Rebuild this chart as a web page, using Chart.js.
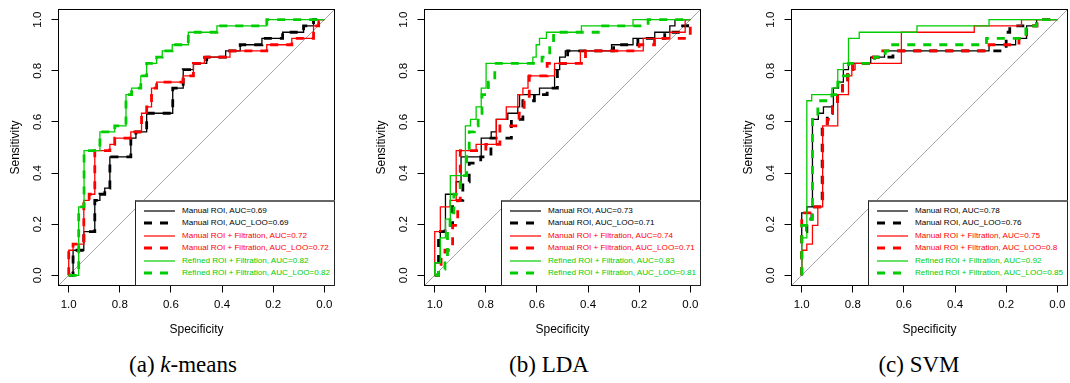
<!DOCTYPE html>
<html>
<head>
<meta charset="utf-8">
<script src="https://cdn.jsdelivr.net/npm/chart.js@4.4.0/dist/chart.umd.min.js"></script>
<style>
  body { margin: 0; background: #fff; }
  #page { position: relative; width: 1070px; height: 383px; overflow: hidden; }
  .panel { position: absolute; top: 0; width: 336px; height: 340px; }
  .legend {
    position: absolute; left: 135px; top: 200px; width: 200px; height: 86px;
    box-sizing: border-box; border: 1px solid #222; border-top: 2px solid #666;
    background: #fff; font-family: 'Liberation Sans', Arial, sans-serif; font-size: 8.1px;
  }
  .legend .row { position: absolute; left: 0; width: 100%; height: 12px; line-height: 12px; white-space: nowrap; }
  .legend svg { position: absolute; left: 7px; top: 0; }
  .legend span { position: absolute; left: 46px; top: 0; }
  .caption {
    position: absolute; top: 352px; transform: translateX(-50%); white-space: nowrap;
    font-family: 'Liberation Serif', 'Times New Roman', serif; font-size: 23px;
  }
</style>
</head>
<body>
<div id="page"></div>
<script>
const FONT = "'Liberation Sans', Arial, sans-serif";

const tickValues = [0, 0.2, 0.4, 0.6, 0.8, 1.0];
const seriesNames = ['Manual ROI', 'Manual ROI + Filtration', 'Refined ROI + Filtration'];
const seriesColors = ['#000000', '#FF0000', '#00CD00'];
const diagSpec = [1.04, -0.04];
const diagSens = [-0.04, 1.04];

// ROC steps as [specificity, sensitivity]: sensitivity rises to the value at that specificity
// (a) k-means
const kmManual = [[1,0],[0.983,0.098],[0.941,0.171],[0.898,0.293],[0.878,0.317],[0.859,0.341],[0.839,0.463],[0.757,0.537],[0.737,0.561],[0.695,0.634],[0.593,0.732],[0.552,0.805],[0.512,0.829],[0.460,0.854],[0.386,0.878],[0.329,0.902],[0.244,0.927],[0.163,0.951],[0.081,0.976],[0.042,1],[0,1]];
const kmManualLoo = kmManual;
const kmFilt = [[1,0],[1,0.098],[0.983,0.122],[0.941,0.293],[0.920,0.317],[0.898,0.488],[0.839,0.512],[0.820,0.537],[0.757,0.561],[0.715,0.634],[0.695,0.659],[0.676,0.732],[0.656,0.756],[0.552,0.780],[0.512,0.829],[0.469,0.854],[0.369,0.878],[0.225,0.902],[0.127,0.927],[0.042,0.976],[0.022,1],[0,1]];
const kmFiltLoo = kmFilt;
const kmRefined = [[1,0],[0.961,0.268],[0.940,0.488],[0.878,0.561],[0.820,0.585],[0.776,0.707],[0.754,0.732],[0.718,0.780],[0.695,0.829],[0.656,0.854],[0.634,0.878],[0.595,0.902],[0.532,0.951],[0.42,0.976],[0.225,1],[0,1]];
const kmRefinedLoo = kmRefined;
const kmAuc = [0.69, 0.72, 0.82];
const kmAucLoo = [0.69, 0.72, 0.82];

// (b) LDA
const ldaManual = [[1,0],[1,0.049],[0.978,0.171],[0.958,0.317],[0.916,0.366],[0.897,0.463],[0.818,0.537],[0.779,0.561],[0.759,0.610],[0.714,0.634],[0.675,0.659],[0.668,0.707],[0.590,0.732],[0.531,0.805],[0.511,0.854],[0.489,0.878],[0.308,0.902],[0.224,0.927],[0.139,0.951],[0.080,0.976],[0.060,1],[0,1]];
const ldaManualLoo = [[1,0],[0.985,0.171],[0.96,0.195],[0.93,0.293],[0.89,0.366],[0.865,0.439],[0.82,0.463],[0.78,0.537],[0.70,0.610],[0.655,0.683],[0.61,0.707],[0.56,0.732],[0.52,0.829],[0.48,0.878],[0.30,0.902],[0.205,0.927],[0.10,0.951],[0.03,0.976],[0.01,1],[0,1]];
const ldaFilt = [[1,0],[1,0.171],[0.978,0.268],[0.940,0.293],[0.916,0.488],[0.838,0.512],[0.759,0.610],[0.720,0.659],[0.675,0.707],[0.655,0.732],[0.635,0.780],[0.531,0.829],[0.43,0.878],[0.184,0.927],[0.08,0.951],[0.02,1],[0,1]];
const ldaFiltLoo = [[1,0],[0.985,0.024],[0.975,0.073],[0.96,0.098],[0.93,0.195],[0.91,0.293],[0.90,0.488],[0.80,0.512],[0.745,0.585],[0.67,0.634],[0.65,0.683],[0.63,0.780],[0.56,0.829],[0.41,0.878],[0.20,0.902],[0.14,0.927],[0,1]];
const ldaRefined = [[1,0],[1,0.049],[0.978,0.146],[0.958,0.220],[0.939,0.390],[0.880,0.585],[0.860,0.610],[0.838,0.659],[0.818,0.732],[0.799,0.829],[0.616,0.854],[0.603,0.902],[0.590,0.927],[0.563,0.951],[0.426,0.976],[0.224,1],[0,1]];
const ldaRefinedLoo = [[1,0],[0.985,0.024],[0.96,0.073],[0.95,0.195],[0.94,0.244],[0.925,0.317],[0.90,0.390],[0.875,0.488],[0.865,0.561],[0.845,0.585],[0.83,0.634],[0.815,0.707],[0.79,0.756],[0.765,0.829],[0.58,0.854],[0.55,0.902],[0.535,0.951],[0.36,0.976],[0.165,1],[0,1]];
const ldaAuc = [0.73, 0.74, 0.83];
const ldaAucLoo = [0.71, 0.71, 0.81];

// (c) SVM
const svmManual = [[1,0],[1,0.244],[0.98,0.268],[0.958,0.610],[0.935,0.634],[0.915,0.659],[0.876,0.732],[0.856,0.756],[0.837,0.805],[0.817,0.829],[0.73,0.854],[0.676,0.878],[0.267,0.902],[0.163,0.927],[0.120,0.976],[0.081,1],[0,1]];
const svmManualLoo = [[1,0],[1,0.171],[0.98,0.220],[0.96,0.268],[0.92,0.585],[0.90,0.634],[0.88,0.659],[0.86,0.707],[0.84,0.756],[0.82,0.805],[0.80,0.829],[0.72,0.854],[0.643,0.878],[0.20,0.951],[0.186,0.976],[0.08,1],[0,1]];
const svmFilt = [[1,0],[1,0.098],[0.98,0.122],[0.958,0.195],[0.937,0.268],[0.918,0.585],[0.859,0.707],[0.817,0.780],[0.804,0.805],[0.791,0.829],[0.61,0.951],[0.325,0.976],[0.14,1],[0,1]];
const svmFiltLoo = [[1,0],[1,0.244],[0.96,0.268],[0.918,0.585],[0.90,0.610],[0.88,0.659],[0.86,0.707],[0.84,0.756],[0.82,0.805],[0.80,0.829],[0.72,0.854],[0.70,0.878],[0.267,0.902],[0.15,0.927],[0.12,0.976],[0.08,1],[0,1]];
const svmRefined = [[1,0],[1,0.146],[0.98,0.683],[0.961,0.707],[0.882,0.732],[0.859,0.805],[0.837,0.829],[0.817,0.927],[0.775,0.951],[0.549,0.976],[0.267,1],[0,1]];
const svmRefinedLoo = [[1,0],[1,0.195],[0.97,0.220],[0.958,0.610],[0.937,0.683],[0.882,0.707],[0.859,0.756],[0.837,0.780],[0.817,0.829],[0.715,0.854],[0.673,0.878],[0.654,0.902],[0.277,0.927],[0.123,0.976],[0.081,1],[0,1]];
const svmAuc = [0.78, 0.75, 0.92];
const svmAucLoo = [0.76, 0.8, 0.85];

const panels = [
  { left: 0, caption: '(a) <i>k</i>-means', captionX: 183,
    curves: [[kmManual, kmManualLoo], [kmFilt, kmFiltLoo], [kmRefined, kmRefinedLoo]], auc: kmAuc, aucLoo: kmAucLoo },
  { left: 366, caption: '(b) LDA', captionX: 549,
    curves: [[ldaManual, ldaManualLoo], [ldaFilt, ldaFiltLoo], [ldaRefined, ldaRefinedLoo]], auc: ldaAuc, aucLoo: ldaAucLoo },
  { left: 733, caption: '(c) SVM', captionX: 919,
    curves: [[svmManual, svmManualLoo], [svmFilt, svmFiltLoo], [svmRefined, svmRefinedLoo]], auc: svmAuc, aucLoo: svmAucLoo }
];

const toXY = pts => pts.map(([x, y]) => ({ x, y }));

const framePlugin = {
  id: 'frame',
  afterDatasetsDraw(chart) {
    const { ctx, chartArea: a } = chart;
    ctx.save();
    ctx.strokeStyle = '#000';
    ctx.lineWidth = 1;
    ctx.strokeRect(a.left, a.top, a.right - a.left, a.bottom - a.top);
    ctx.restore();
  }
};

function buildDatasets(p) {
  const sets = [{
    data: diagSpec.map((x, i) => ({ x, y: diagSens[i] })),
    borderColor: '#a6a6a6', borderWidth: 1, order: 10
  }];
  // 'before': move across to the next specificity, then rise to its sensitivity
  seriesNames.forEach((name, i) => {
    sets.push({
      label: `${name}, AUC=${p.auc[i]}`,
      data: toXY(p.curves[i][0]),
      borderColor: seriesColors[i], borderWidth: 1.3, stepped: 'before',
      order: 6 - 2 * i
    });
    sets.push({
      label: `${name}, AUC_LOO=${p.aucLoo[i]}`,
      data: toXY(p.curves[i][1]),
      borderColor: seriesColors[i], borderWidth: 2.8, borderDash: [8, 8], stepped: 'before',
      order: 5 - 2 * i
    });
  });
  return sets;
}

function scaleBase() {
  return {
    type: 'linear', min: -0.04, max: 1.04,
    grid: { drawOnChartArea: false, drawTicks: true, tickLength: 7, color: '#000', lineWidth: 1 },
    border: { display: false },
    afterBuildTicks: s => { s.ticks = tickValues.map(v => ({ value: v })); }
  };
}

function makeLegend(panelEl, chart) {
  const box = document.createElement('div');
  box.className = 'legend';
  chart.data.datasets.filter(d => d.label).forEach((d, i) => {
    const row = document.createElement('div');
    row.className = 'row';
    row.style.top = (9 + 12.4 * i - 6) + 'px';
    const dashed = d.borderDash && d.borderDash.length;
    row.innerHTML =
      `<svg width="33" height="12"><line x1="1" y1="6" x2="32" y2="6" stroke="${d.borderColor}" ` +
      `stroke-width="${dashed ? 2.8 : 1.2}" ${dashed ? 'stroke-dasharray="8,8"' : ''}/></svg>` +
      `<span style="color:${d.borderColor}">${d.label}</span>`;
    box.appendChild(row);
  });
  panelEl.appendChild(box);
}

const page = document.getElementById('page');

panels.forEach(p => {
  const panelEl = document.createElement('div');
  panelEl.className = 'panel';
  panelEl.style.left = p.left + 'px';
  const canvas = document.createElement('canvas');
  canvas.width = 336;
  canvas.height = 340;
  panelEl.appendChild(canvas);
  page.appendChild(panelEl);

  const x = scaleBase();
  x.reverse = true;
  x.position = 'bottom';
  x.ticks = { font: { family: FONT, size: 11.5 }, color: '#000', padding: 5, maxRotation: 0,
              callback: v => v.toFixed(1) };
  x.title = { display: true, text: 'Specificity', color: '#000', font: { family: FONT, size: 12 },
              padding: { top: 0, bottom: 2.8 } };
  x.afterFit = s => { s.height = 54.5; s.paddingLeft = 0; s.paddingRight = 0; };

  const y = scaleBase();
  y.position = 'left';
  y.ticks = { font: { family: FONT, size: 11.5 }, color: '#000', padding: 6, minRotation: 90, maxRotation: 90,
              crossAlign: 'center', callback: v => v.toFixed(1) };
  y.title = { display: true, text: 'Sensitivity', color: '#000', font: { family: FONT, size: 12 },
              padding: { top: 8.1, bottom: 0 } };
  y.afterFit = s => { s.width = 58.5; s.paddingTop = 0; s.paddingBottom = 0; };

  const chart = new Chart(canvas, {
    type: 'line',
    data: { datasets: buildDatasets(p) },
    options: {
      responsive: false,
      animation: false,
      devicePixelRatio: 1,
      layout: { padding: { top: 9.5, right: 1.5, left: 0, bottom: 0 } },
      elements: { point: { radius: 0 }, line: { fill: false, tension: 0 } },
      plugins: { legend: { display: false }, tooltip: { enabled: false } },
      scales: { x, y }
    },
    plugins: [framePlugin]
  });

  makeLegend(panelEl, chart);

  const cap = document.createElement('div');
  cap.className = 'caption';
  cap.style.left = p.captionX + 'px';
  cap.innerHTML = p.caption;
  page.appendChild(cap);
});
</script>
</body>
</html>
